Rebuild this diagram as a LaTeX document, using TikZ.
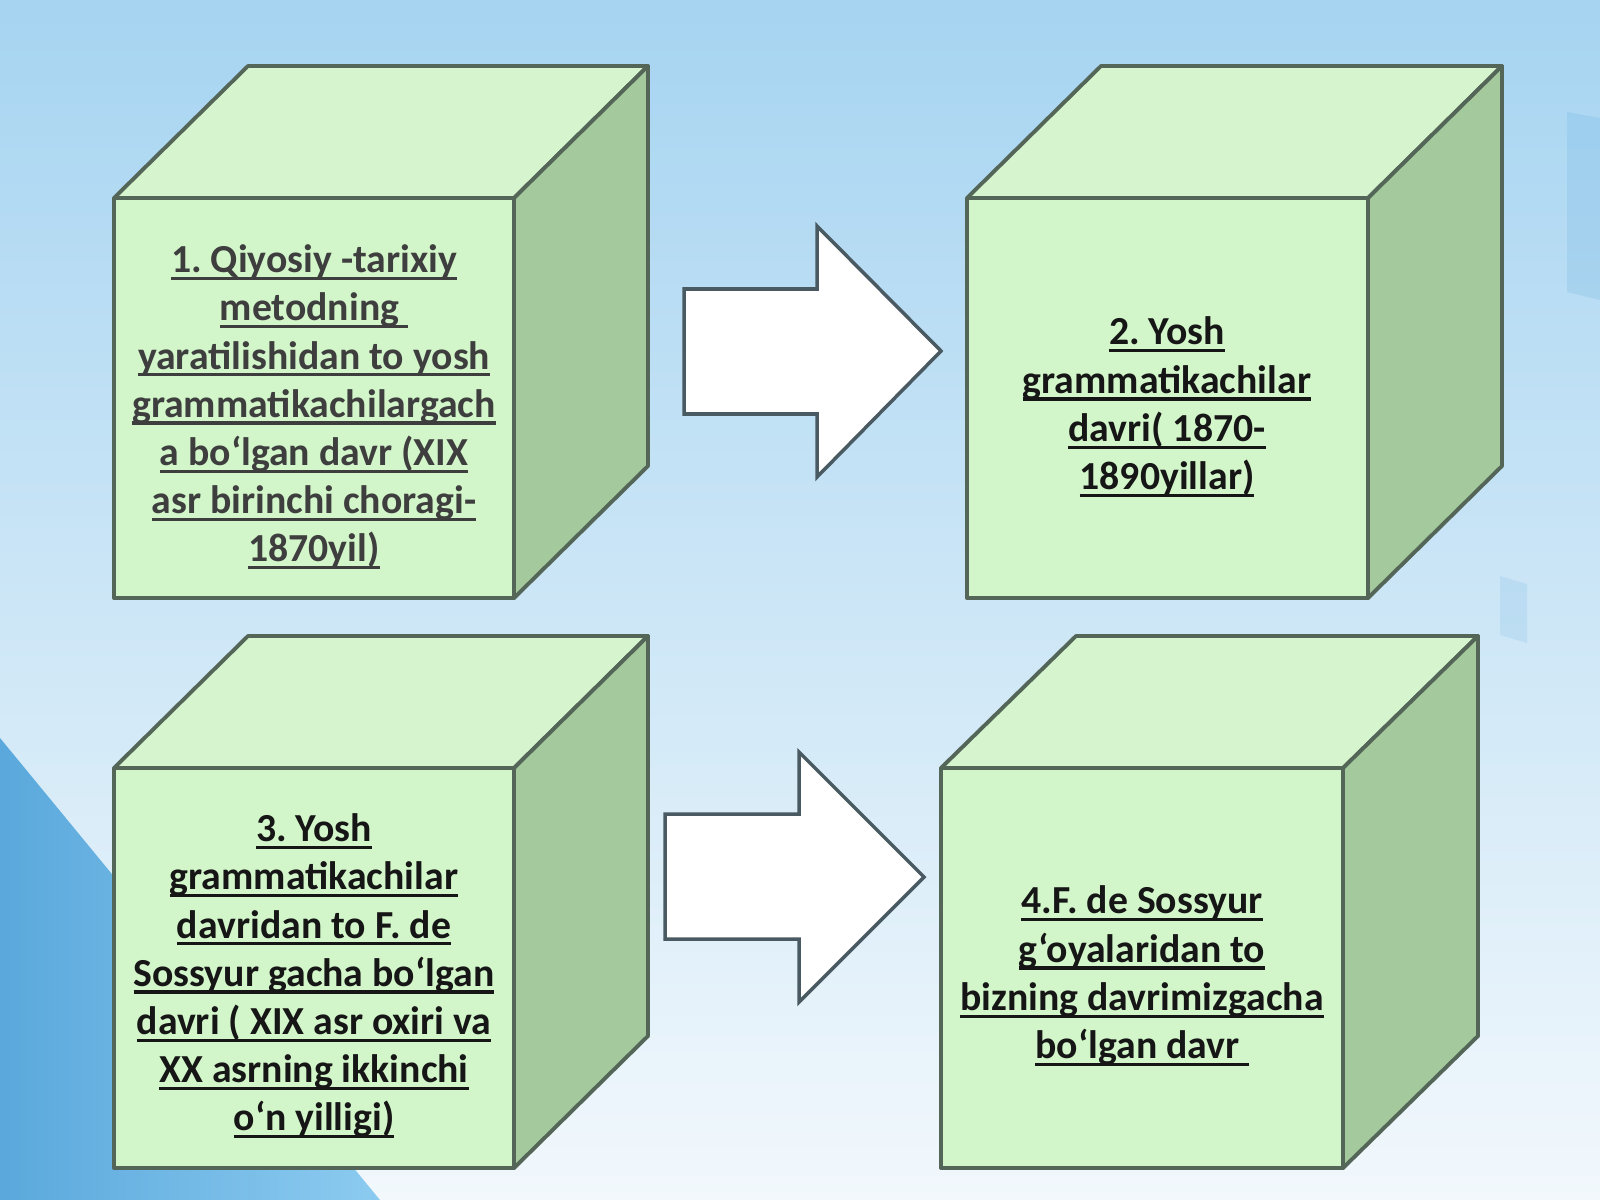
\documentclass[tikz,border=0pt]{standalone}
\usepackage{fontspec}
\setmainfont{Carlito}
\frenchspacing
\definecolor{bgtop}{RGB}{166,212,241}
\definecolor{bgmid}{RGB}{198,228,246}
\definecolor{bgbottom}{RGB}{242,248,252}
\definecolor{bgdark}{RGB}{90,168,220}
\definecolor{bglight}{RGB}{140,203,240}
\definecolor{edgegray}{RGB}{84,102,88}
\definecolor{frontgreen}{RGB}{210,246,202}
\definecolor{topgreen}{RGB}{214,245,206}
\definecolor{sidegreen}{RGB}{164,201,156}
\definecolor{arrowgray}{RGB}{74,90,98}
\definecolor{textgray}{RGB}{62,62,62}
\definecolor{textdark}{RGB}{22,22,22}
\tikzstyle{front face}=[fill=frontgreen, draw=edgegray, line width=1.1pt, line join=round]
\tikzstyle{top face}=[fill=topgreen, draw=edgegray, line width=1.1pt, line join=round]
\tikzstyle{side face}=[fill=sidegreen, draw=edgegray, line width=1.1pt, line join=round]
\tikzstyle{block arrow}=[fill=white, draw=arrowgray, line width=1pt, line join=miter]
\tikzstyle{cube text}=[align=center, inner sep=0pt, font=\bfseries\fontsize{11.3}{13.7}\selectfont]
\newcommand{\ulword}[1]{\setbox0=\hbox{#1}\rlap{\rule[-2.1pt]{\wd0}{0.9pt}}\box0}

\begin{document}
\begin{tikzpicture}[x=0.01cm, y=-0.01cm]
\useasboundingbox (0,0) rectangle (1600,1200);
% Background
    \shade[top color=bgtop, middle color=bgmid, bottom color=bgbottom] (0,0) rectangle (1600,1200);
    \shade[left color=bgdark, right color=bglight] (0,738) -- (380,1200) -- (0,1200) -- cycle;
    \fill[bgdark, opacity=0.18] (1567,112) -- (1600,118) -- (1600,300) -- (1567,292) -- cycle;
    \fill[bgdark, opacity=0.15] (1500,576) -- (1527,584) -- (1527,643) -- (1500,635) -- cycle;
% Cube 1
    \draw[top face] (114,198) -- (248,66) -- (648,66) -- (514,198) -- cycle;
    \draw[side face] (514,198) -- (648,66) -- (648,466) -- (514,598) -- cycle;
    \draw[front face] (114,198) rectangle (514,598);
% Cube 2
    \draw[top face] (967,198) -- (1101,66) -- (1502,66) -- (1368,198) -- cycle;
    \draw[side face] (1368,198) -- (1502,66) -- (1502,466) -- (1368,598) -- cycle;
    \draw[front face] (967,198) rectangle (1368,598);
% Cube 3
    \draw[top face] (114,768) -- (248,636) -- (648,636) -- (514,768) -- cycle;
    \draw[side face] (514,768) -- (648,636) -- (648,1036) -- (514,1168) -- cycle;
    \draw[front face] (114,768) rectangle (514,1168);
% Cube 4
    \draw[top face] (941,768) -- (1076,636) -- (1478,636) -- (1343,768) -- cycle;
    \draw[side face] (1343,768) -- (1478,636) -- (1478,1036) -- (1343,1168) -- cycle;
    \draw[front face] (941,768) rectangle (1343,1168);
% Arrows
    \draw[block arrow] (684,289) -- (817,289) -- (817,226) -- (941,351) -- (817,477) -- (817,414) -- (684,414) -- cycle;
    \draw[block arrow] (665,814) -- (799,814) -- (799,752) -- (924,877) -- (799,1002) -- (799,939) -- (665,939) -- cycle;
% Texts
    \node[cube text, text=textgray] (davr1) at (314,407) {\ulword{1. Qiyosiy -tarixiy}\\\ulword{metodning\ }\\\ulword{yaratilishidan to yosh}\\\ulword{grammatikachilargach}\\\ulword{a bo‘lgan davr (XIX}\\\ulword{asr birinchi choragi-}\\\ulword{1870yil)}};
    \node[cube text, text=textdark] (davr2) at (1167,407) {\ulword{2. Yosh}\\\ulword{grammatikachilar}\\\ulword{davri( 1870-}\\\ulword{1890yillar)}};
    \node[cube text, text=textdark] (davr3) at (314,976) {\ulword{3. Yosh}\\\ulword{grammatikachilar}\\\ulword{davridan to F. de}\\\ulword{Sossyur gacha bo‘lgan}\\\ulword{davri ( XIX asr oxiri va}\\\ulword{XX asrning ikkinchi}\\\ulword{o‘n yilligi)}};
    \node[cube text, text=textdark] (davr4) at (1142,976) {\ulword{4.F. de Sossyur}\\\ulword{g‘oyalaridan to}\\\ulword{bizning davrimizgacha}\\\ulword{bo‘lgan davr\ }};
\end{tikzpicture}
\end{document}
